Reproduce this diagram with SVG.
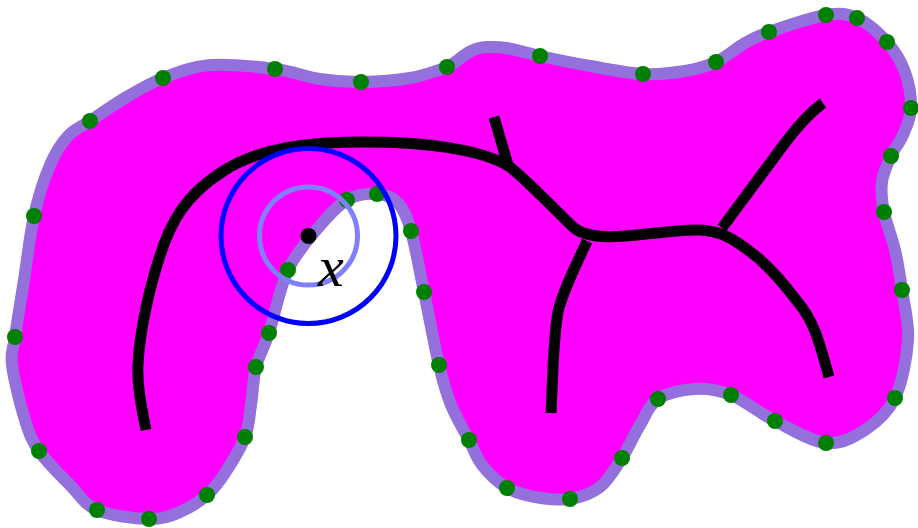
<svg xmlns="http://www.w3.org/2000/svg" width="918" height="528" viewBox="0 0 918 528">
<style>
.region{fill:#ff00ff;stroke:#9370db;stroke-width:12;stroke-linejoin:round}
.tree{fill:none;stroke:#000;stroke-width:11;stroke-linecap:butt;stroke-linejoin:round}
.pts circle{fill:#008000;r:8px}
.ring{fill:none}
</style>
<rect width="918" height="528" fill="#fff"/>
<path id="region" class="region" d="M34 216C38.3 196.8 44.3 178.3 50 165S61.3 143.3 68 136S80.5 127.3 90 121S112.8 105.2 125 98S148.8 83.5 163 78S191.3 66.5 210 65S256.7 66.7 275 69S305.7 76.8 320 79S346 82.2 361 82S395.7 80.5 410 78S435.3 71.5 447 67S466 48 487 47S521.7 52 540 56S572.8 63 590 66S627.2 73.2 643 74S672.8 73 685 71S706 66.7 716 62S736.2 48 745 43S755.5 36.7 769 32S811.3 17.3 826 15S846.8 13.5 857 18S879 33 887 42S901 61 905 72S911.3 97.5 911 108S906.3 127 903 135S894.5 148.2 891 156S883.2 172.7 882 182S881.8 200.7 884 212S892 237 895 250S899.8 275 902 290S909.2 322 908 340S902.2 383 895 398S876.5 422.5 865 430S841 444.5 826 443S790.8 429 775 421S744.3 400.3 731 395S707.2 388.3 695 389S667.2 393 658 399S646 415.2 640 425S628.7 447.7 622 458S608.7 480.2 600 487S580.8 497.3 570 499S545.5 498.8 535 497S515.8 493.3 507 488S488.3 473 482 465S474.2 450 469 440S456 417.5 451 405S443.5 383.8 439 365S428.7 314.3 424 292S415.3 245.8 411 231S403.7 209.2 398 203S385.5 194.5 377 194S356.8 194.3 347 200S327.8 216.3 318 228S296.2 252.5 288 270S274.3 316.8 269 333S259 355 256 367S252.8 393.3 251 405S249.3 425.7 245 437S231.3 463.3 225 473S214.5 488.5 207 495S189.7 508 180 512S162.8 519.3 149 519S110.2 515.7 97 510S79.7 494.8 70 485S46.5 461.8 39 451S29.5 434.3 25 420S13.7 378.8 12 365S13 351.2 15 337S20.8 300.2 24 280S29.7 235.2 34 216Z"/>
<g id="connectors">
<path class="tree" d="M146 430C141 405 137 385 138 365C139 340 146 300 158 262C170 222 185 195 225 170C262 147 310 142 365 142C420 142 480 148 510 167C530 183 555 210 572 226C582 236 600 238 625 236C655 234 680 229 700 230C722 231 735 240 752 253C770 267 783 283 797 301C815 322 820 345 829 377"/>
<path class="tree" d="M494 117L508 165"/>
<path class="tree" d="M587 241C575 268 563 290 558 312C553 340 553 375 551 413"/>
<path class="tree" d="M722 228C745 197 765 170 785 143C797 127 808 114 823 103"/>
</g>
<g id="points" class="pts">
<circle cx="34" cy="216"/><circle cx="90" cy="121"/><circle cx="163" cy="78"/><circle cx="275" cy="69"/><circle cx="361" cy="82"/><circle cx="447" cy="67"/><circle cx="540" cy="56"/><circle cx="643" cy="74"/><circle cx="716" cy="62"/><circle cx="769" cy="32"/><circle cx="826" cy="15"/><circle cx="857" cy="18"/><circle cx="887" cy="42"/><circle cx="911" cy="108"/><circle cx="891" cy="156"/><circle cx="884" cy="212"/><circle cx="902" cy="290"/><circle cx="895" cy="398"/><circle cx="826" cy="443"/><circle cx="775" cy="421"/><circle cx="731" cy="395"/><circle cx="658" cy="399"/><circle cx="622" cy="458"/><circle cx="570" cy="499"/><circle cx="507" cy="488"/><circle cx="469" cy="440"/><circle cx="439" cy="365"/><circle cx="424" cy="292"/><circle cx="411" cy="231"/><circle cx="377" cy="194"/><circle cx="347" cy="200"/><circle cx="288" cy="270"/><circle cx="269" cy="333"/><circle cx="256" cy="367"/><circle cx="245" cy="437"/><circle cx="207" cy="495"/><circle cx="149" cy="519"/><circle cx="97" cy="510"/><circle cx="39" cy="451"/><circle cx="15" cy="337"/>
</g>
<g id="node-x">
<circle class="ring" cx="308.500" cy="236" r="87.500" stroke="#0000ff" stroke-width="5"/>
<circle class="ring" cx="308.500" cy="236" r="49" stroke="#8080ff" stroke-width="5"/>
<circle cx="308.500" cy="236" r="8" fill="#000"/>
<text x="318" y="286" font-family="'Liberation Serif',serif" font-style="italic" font-size="58" fill="#000">x</text>
</g>
</svg>
